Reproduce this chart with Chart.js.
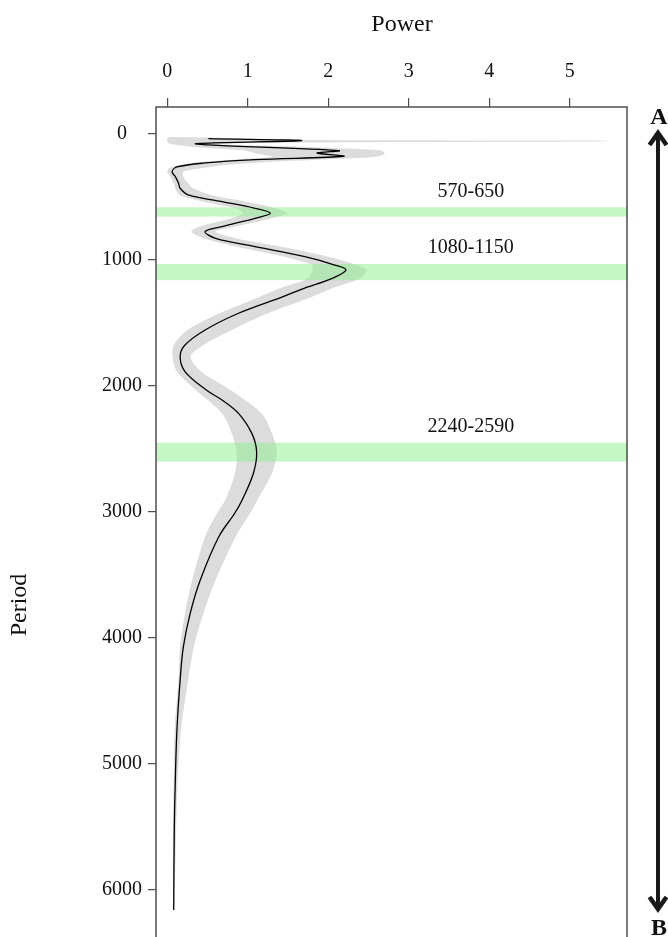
<!DOCTYPE html>
<html>
<head>
<meta charset="utf-8">
<script src="https://cdn.jsdelivr.net/npm/chart.js@4.4.1/dist/chart.umd.min.js"></script>
<style>
  body { margin: 0; background: #fff; }
</style>
</head>
<body>
<canvas id="periodChart" width="668" height="937"></canvas>
<script>
// black curve: power at each period
const period = [37, 53, 79, 132, 151, 177, 204, 230, 262, 300, 339, 391, 431, 484, 537, 590, 630, 669, 735, 775,
    828, 894, 974, 1040, 1079, 1146, 1225, 1291, 1423, 1556, 1675, 1767, 1886, 2030, 2111, 2217, 2376, 2521, 2693, 2905,
    3008, 3196, 3540, 3804, 4069, 4333, 4730, 5127, 5524, 6159];
const power = [0.51, 1.67, 0.35, 2.13, 1.86, 2.19, 1.09, 0.47, 0.12, 0.06, 0.10, 0.14, 0.16, 0.26, 0.68, 1.09, 1.28, 1.09, 0.68, 0.47,
    0.60, 1.09, 1.71, 2.08, 2.22, 2.05, 1.70, 1.44, 0.885, 0.47, 0.22, 0.16, 0.22, 0.48, 0.68, 0.885, 1.05, 1.11, 1.07, 0.93,
    0.84, 0.64, 0.41, 0.285, 0.20, 0.16, 0.12, 0.10, 0.087, 0.08];

// grey uncertainty band (low / high power at each period)
const bandPeriod = [25, 35, 47, 52, 56, 60, 68, 80, 105, 130, 155, 180, 200, 220, 245, 275, 300, 339, 391, 431, 484, 537,
    590, 630, 669, 735, 775, 828, 894, 974, 1040, 1079, 1146, 1225, 1291, 1423, 1556, 1675, 1767, 1886, 2030, 2217,
    2376, 2521, 2693, 2905, 3008, 3196, 3540, 3804, 4069, 4333, 4730, 5127, 5524, 6159];
const bandLow = [0.02, 0.0, 0.0, 0.0, 0.0, 0.0, 0.0, 0.05, 0.35, 0.95, 1.1, 1.3, 0.9, 0.45, 0.15, 0.02, 0.0, 0.04, 0.08, 0.1, 0.15, 0.45,
    0.85, 0.94, 0.8, 0.4, 0.3, 0.45, 0.85, 1.45, 1.8, 1.8, 1.75, 1.4, 1.15, 0.65, 0.25, 0.08, 0.066, 0.12, 0.35, 0.68,
    0.80, 0.86, 0.84, 0.72, 0.62, 0.47, 0.31, 0.22, 0.16, 0.14, 0.09, 0.08, 0.07, 0.075];
const bandHigh = [0.12, 0.9, 1.75, 5.3, 5.47, 5.3, 1.7, 0.6, 1.8, 2.65, 2.7, 2.6, 2.0, 1.3, 0.75, 0.4, 0.2, 0.2, 0.26, 0.32, 0.55, 0.98,
    1.35, 1.49, 1.3, 0.85, 0.6, 0.85, 1.4, 2.0, 2.35, 2.47, 2.4, 2.05, 1.8, 1.25, 0.8, 0.45, 0.29, 0.42, 0.78, 1.17,
    1.30, 1.36, 1.30, 1.12, 1.03, 0.85, 0.60, 0.45, 0.33, 0.26, 0.17, 0.13, 0.11, 0.085];

// highlighted period ranges
const rangeStart = [582, 1032, 2450];
const rangeEnd = [656, 1160, 2600];
const rangeLabels = ['570-650', '1080-1150', '2240-2590'];

const xTicks = [0, 1, 2, 3, 4, 5];
const yTicks = [0, 1000, 2000, 3000, 4000, 5000, 6000];

const serif = '"Liberation Serif", "DejaVu Serif", serif';

const lineData = period.map((p, i) => ({ x: power[i], y: p }));
const bandData = [];
for (let i = 0; i < bandPeriod.length; i++) {
    bandData.push({ x: bandLow[i], y: bandPeriod[i] });
}
for (let i = bandPeriod.length - 1; i >= 0; i--) {
    bandData.push({ x: bandHigh[i], y: bandPeriod[i] });
}

const decor = {
    id: 'decor',
    afterDatasetDraw(chart, args) {
        // green ranges go over the grey band but under the black line
        if (args.index !== 1) return;
        const { ctx, chartArea } = chart;
        const y = chart.scales.y;
        ctx.save();
        ctx.fillStyle = 'rgba(144, 238, 144, 0.52)';
        for (let i = 0; i < rangeStart.length; i++) {
            const top = y.getPixelForValue(rangeStart[i]);
            const bot = y.getPixelForValue(rangeEnd[i]);
            ctx.fillRect(chartArea.left, top, chartArea.right - chartArea.left, bot - top);
        }
        ctx.restore();
    },
    afterDraw(chart) {
        const { ctx, chartArea } = chart;
        const x = chart.scales.x;
        const y = chart.scales.y;
        ctx.save();

        // box (bottom is off the picture)
        ctx.strokeStyle = '#4d4d4d';
        ctx.lineWidth = 1.5;
        ctx.beginPath();
        ctx.moveTo(chartArea.left, chartArea.bottom + 5);
        ctx.lineTo(chartArea.left, chartArea.top);
        ctx.lineTo(chartArea.right, chartArea.top);
        ctx.lineTo(chartArea.right, chartArea.bottom + 5);
        ctx.stroke();

        // range labels
        ctx.fillStyle = '#111';
        ctx.font = '20px ' + serif;
        ctx.textAlign = 'center';
        ctx.textBaseline = 'middle';
        for (let i = 0; i < rangeLabels.length; i++) {
            ctx.fillText(rangeLabels[i], x.getPixelForValue(3.77), y.getPixelForValue(rangeStart[i]) - 16);
        }

        // axis titles
        ctx.font = '24px ' + serif;
        ctx.fillText('Power', 402, 25);
        ctx.save();
        ctx.translate(20, 605);
        ctx.rotate(-Math.PI / 2);
        ctx.fillText('Period', 0, 0);
        ctx.restore();

        // A -> B arrow on the right
        const ax = 658;
        ctx.strokeStyle = '#1a1a1a';
        ctx.lineWidth = 4;
        ctx.beginPath();
        ctx.moveTo(ax, 136);
        ctx.lineTo(ax, 906);
        ctx.stroke();
        ctx.lineWidth = 4.5;
        ctx.lineJoin = 'miter';
        ctx.beginPath();
        ctx.moveTo(ax - 8.5, 145);
        ctx.lineTo(ax, 133);
        ctx.lineTo(ax + 8.5, 145);
        ctx.moveTo(ax - 8.5, 897);
        ctx.lineTo(ax, 909);
        ctx.lineTo(ax + 8.5, 897);
        ctx.stroke();

        ctx.fillStyle = '#111';
        ctx.font = 'bold 24px ' + serif;
        ctx.fillText('A', 659, 118);
        ctx.fillText('B', 659, 929);
        ctx.restore();
    }
};

new Chart(document.getElementById('periodChart'), {
    type: 'line',
    data: {
        datasets: [{
            label: 'Power',
            data: lineData,
            borderColor: '#000',
            borderWidth: 1.3,
            pointRadius: 0,
            tension: 0.35,
            fill: false,
            order: 0
        }, {
            label: 'Band',
            data: bandData,
            borderColor: 'rgba(0,0,0,0)',
            borderWidth: 0,
            backgroundColor: '#dcdcdc',
            pointRadius: 0,
            tension: 0.3,
            fill: 'shape',
            order: 1
        }]
    },
    options: {
        responsive: false,
        animation: false,
        layout: { padding: { left: 0, right: 41, top: 0, bottom: 0 } },
        plugins: {
            legend: { display: false },
            tooltip: { enabled: false }
        },
        scales: {
            x: {
                type: 'linear',
                position: 'top',
                min: -0.14,
                max: 5.71,
                afterFit: (scale) => {
                    scale.height = 107;
                    scale.paddingLeft = 0;
                    scale.paddingRight = 0;
                },
                afterBuildTicks: (scale) => { scale.ticks = xTicks.map(v => ({ value: v })); },
                grid: { drawOnChartArea: false, drawTicks: true, tickLength: 9, color: '#4d4d4d', lineWidth: 1.2 },
                border: { display: false },
                ticks: { color: '#111', padding: 14, font: { family: serif, size: 20 } }
            },
            y: {
                type: 'linear',
                reverse: true,
                min: -214,
                max: 6373,
                afterFit: (scale) => {
                    scale.width = 156;
                    scale.paddingTop = 0;
                    scale.paddingBottom = 0;
                },
                afterBuildTicks: (scale) => { scale.ticks = yTicks.map(v => ({ value: v })); },
                grid: { drawOnChartArea: false, drawTicks: true, tickLength: 8, color: '#4d4d4d', lineWidth: 1.2 },
                border: { display: false },
                ticks: {
                    color: '#111',
                    padding: 6,
                    crossAlign: 'center',
                    font: { family: serif, size: 20 },
                    callback: (v) => String(v)
                }
            }
        }
    },
    plugins: [decor]
});
</script>
</body>
</html>
